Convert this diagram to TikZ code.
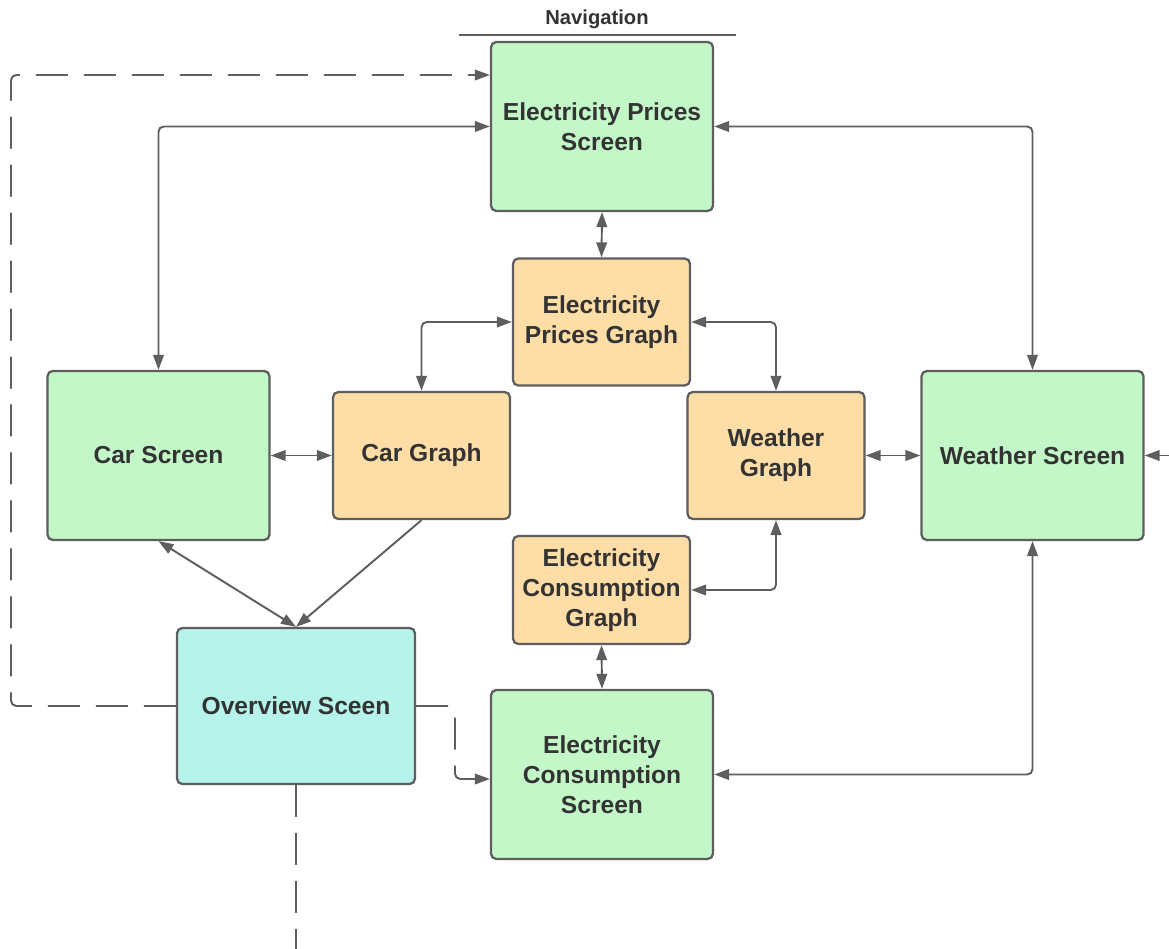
\documentclass[tikz,border=0pt]{standalone}
\usepackage{fontspec}
\setmainfont{Liberation Sans}
\usepackage{tikz}
\usetikzlibrary{arrows.meta}

\definecolor{screengreen}{HTML}{C3F7C8}
\definecolor{graphorange}{HTML}{FFDDA6}
\definecolor{overviewcyan}{HTML}{B5F3EB}
\definecolor{linegray}{HTML}{5E5E5E}
\definecolor{textgray}{HTML}{333333}

\tikzset{
  box/.style={shape=rectangle, draw=linegray, line width=1.3pt, rounded corners=3pt,
    align=center, text=textgray, font=\fontsize{14}{17}\selectfont\bfseries},
  screen/.style={box, fill=screengreen, minimum width=4.44cm, minimum height=3.38cm},
  graph/.style={box, fill=graphorange, minimum width=3.54cm, minimum height=2.54cm},
  overview/.style={box, fill=overviewcyan, minimum width=4.76cm, minimum height=3.12cm},
  link/.style={draw=linegray, line width=1.1pt, rounded corners=3pt},
  both/.style={link, {Triangle[length=8.5pt,width=6pt]}-{Triangle[length=8.5pt,width=6pt]}},
  single/.style={link, -{Triangle[length=8.5pt,width=6pt]}},
  dashlink/.style={link, dash pattern=on 0.64cm off 0.32cm},
}

\begin{document}
\begin{tikzpicture}[x=0.02cm, y=-0.02cm]
  \useasboundingbox (0, 0) rectangle (1169, 949);
  \node (nav) at (597, 19) [text=textgray, font=\fontsize{11.5}{13}\selectfont\bfseries] {Navigation};
  \draw [draw=linegray, line width=0.8pt] (459, 35) -- (736, 35);

  \node (eps) at (602, 126.5) [screen] {Electricity Prices\\Screen};
  \node (epg) at (601.5, 322) [graph] {Electricity\\Prices Graph};
  \node (car) at (158.5, 455.5) [screen] {Car Screen};
  \node (carg) at (421.5, 455.5) [graph] {Car Graph};
  \node (wg) at (776, 455.5) [graph] {Weather\\Graph};
  \node (ws) at (1032.5, 455.5) [screen] {Weather Screen};
  \node (ecg) at (601.5, 590) [graph, minimum height=2.16cm] {Electricity\\Consumption\\Graph};
  \node (ov) at (296, 706) [overview] {Overview Sceen};
  \node (ecs) at (602, 774.5) [screen] {Electricity\\Consumption\\Screen};
  \coordinate (rightin) at (1169, 455.5);
  \coordinate (bottomout) at (296, 949);

  \draw [both] (car.north) |- (eps.west);
  \draw [both] (ws.north) |- (eps.east);
  \draw [both] (eps.south) -- (epg.north);
  \draw [both] (carg.north) |- (epg.west);
  \draw [both] (wg.north) |- (epg.east);
  \draw [both] (car.east) -- (carg.west);
  \draw [both] (wg.east) -- (ws.west);
  \draw [single] (rightin) -- (ws.east);
  \draw [both] (wg.south) |- (ecg.east);
  \draw [both] (ecg.south) -- (ecs.north);
  \draw [both] (ws.south) |- (ecs.east);
  \draw [both] (car.south) -- (ov.north);
  \draw [single] (carg.south) -- (ov.north);

  \draw [dashlink, -{Triangle[length=8.5pt,width=6pt]}] (ov.west) -- (11, 706) |- ([yshift=1.03cm]eps.west);
  \draw [dashlink, -{Triangle[length=8.5pt,width=6pt]}] (ov.east) -- (455, 706) |- ([yshift=-0.09cm]ecs.west);
  \draw [dashlink] (ov.south) -- (bottomout);
\end{tikzpicture}
\end{document}
